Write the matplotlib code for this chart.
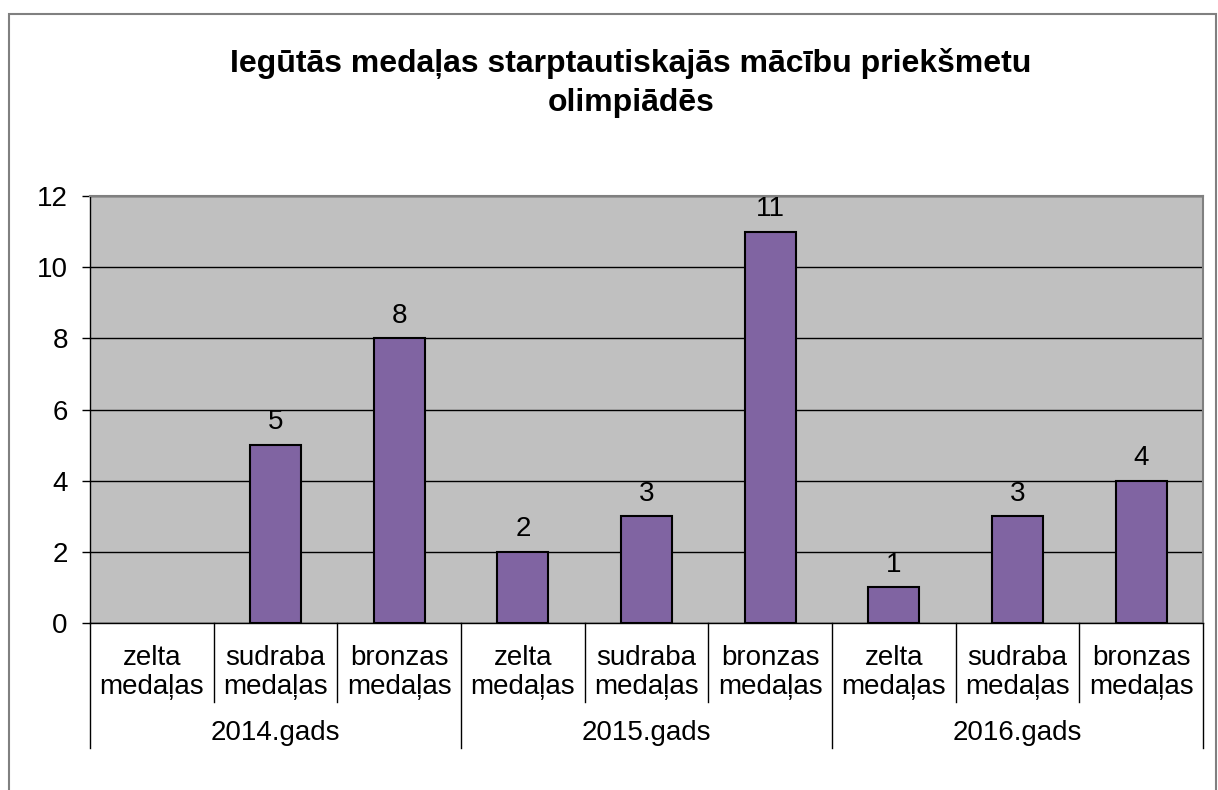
import numpy as np
import matplotlib
matplotlib.use("Agg")
import matplotlib.pyplot as plt
from matplotlib.patches import Rectangle

plt.rcParams["font.family"] = ["Liberation Sans", "DejaVu Sans"]

# data
medal_types = ["zelta\nmedaļas", "sudraba\nmedaļas", "bronzas\nmedaļas"]
years = ["2014.gads", "2015.gads", "2016.gads"]
medals_2014 = [np.nan, 5, 8]
medals_2015 = [2, 3, 11]
medals_2016 = [1, 3, 4]
title = "Iegūtās medaļas starptautiskajās mācību priekšmetu\nolimpiādēs"

values = np.array(medals_2014 + medals_2015 + medals_2016, dtype=float)
labels = medal_types * len(years)
x = np.arange(len(values))
shown = ~np.isnan(values)

fig = plt.figure(figsize=(12.18, 7.90), dpi=100)
ax = fig.add_axes([90 / 1218, 1 - 623 / 790, 1113 / 1218, 427 / 790])

ax.set_facecolor("#C0C0C0")
ax.bar(x[shown], values[shown], width=0.41, color="#8064A2",
       edgecolor="black", linewidth=1.5, zorder=3)

for xi, v in zip(x[shown], values[shown]):
    ax.annotate(f"{v:g}", (xi, v), xytext=(0, 7), textcoords="offset points",
                ha="center", va="bottom", fontsize=20)

ax.set_xlim(-0.5, len(values) - 0.5)
ax.set_ylim(0, 12)
ax.set_yticks(range(0, 13, 2))
ax.tick_params(axis="y", labelsize=20, length=6, width=1, direction="out", pad=10)
ax.set_xticks([])
ax.yaxis.grid(True, color="black", linewidth=1, zorder=1)
ax.set_axisbelow(True)

for side in ["top", "right"]:
    ax.spines[side].set_color("#808080")
    ax.spines[side].set_linewidth(1.5)
ax.spines["left"].set_color("black")
ax.spines["bottom"].set_color("black")
ax.spines["left"].set_linewidth(1)
ax.spines["bottom"].set_linewidth(1)

# two-level category axis
trans = ax.get_xaxis_transform()
for xi, lab in zip(x, labels):
    ax.text(xi, -0.115, lab, transform=trans, ha="center", va="center",
            fontsize=20, linespacing=1.15)
for i in range(len(values) + 1):
    pos = i - 0.5
    bottom = -0.293 if i % 3 == 0 else -0.185
    ax.plot([pos, pos], [0, bottom], transform=trans, color="black",
            linewidth=1, clip_on=False)
for j, yr in enumerate(years):
    ax.text(3 * j + 1, -0.258, yr, transform=trans, ha="center", va="center",
            fontsize=20)

fig.text(0.518, 1 - 83 / 790, title, ha="center", va="center",
         fontsize=23, fontweight="bold", linespacing=1.38)

# chart area border
fig.patches.append(Rectangle((9 / 1218, -0.05), 1207 / 1218, 1.05 - 14 / 790,
                             transform=fig.transFigure, fill=False,
                             edgecolor="#808080", linewidth=1.5))

fig.savefig("out.png", dpi=100, facecolor="white")
